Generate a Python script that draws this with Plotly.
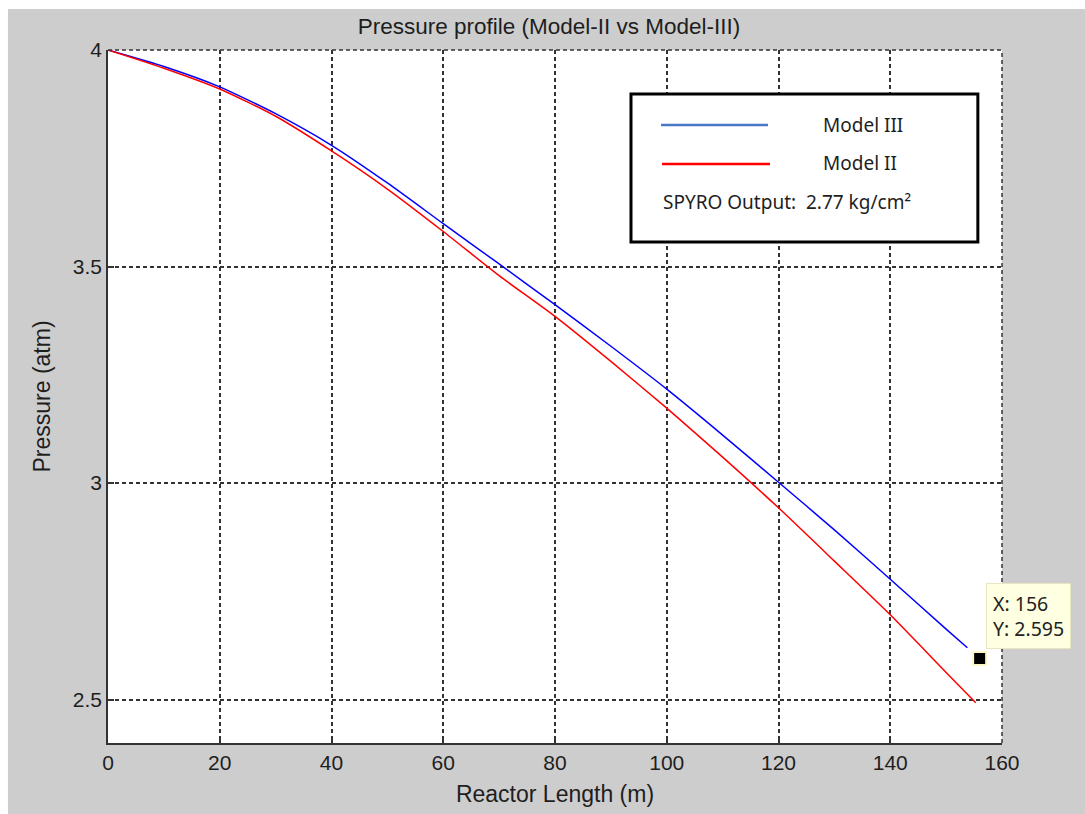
import plotly.graph_objects as go

# ---- data ----
length_m = [0, 10, 20, 30, 40, 50, 60, 70, 80, 90, 100, 110, 120, 130, 140, 150, 153.8]
model3_p = [4.000, 3.962, 3.915, 3.853, 3.780, 3.693, 3.599, 3.506, 3.412, 3.316,
            3.217, 3.111, 3.002, 2.892, 2.778, 2.663, 2.620]

length_m2 = [0, 10, 20, 30, 40, 50, 60, 70, 80, 90, 100, 110, 120, 130, 140, 150, 155.3]
model2_p = [4.000, 3.958, 3.910, 3.847, 3.767, 3.679, 3.581, 3.479, 3.385, 3.281,
            3.173, 3.060, 2.943, 2.820, 2.696, 2.563, 2.493]

tip_x = [156]
tip_y = [2.595]

spyro_output = "2.77 kg/cm²"

x_ticks = [0, 20, 40, 60, 80, 100, 120, 140, 160]
y_ticks = [2.5, 3, 3.5, 4]

GRAY = "#cdcdcd"
TXT = "#1e1e1e"
GRID = "#333333"
FONT = "Liberation Sans, Arial, sans-serif"
LFONT = "Noto Sans, Open Sans, sans-serif"

fig = go.Figure()
fig.add_trace(go.Scatter(x=length_m, y=model3_p, mode="lines", name="Model III",
                         line=dict(color="#0000ff", width=1.5, shape="spline", smoothing=0.6)))
fig.add_trace(go.Scatter(x=length_m2, y=model2_p, mode="lines", name="Model II",
                         line=dict(color="#ff0000", width=1.5, shape="spline", smoothing=0.6)))
fig.add_trace(go.Scatter(x=tip_x, y=tip_y, mode="markers", name="data tip",
                         marker=dict(symbol="square", size=13, color="black",
                                     line=dict(color="#fbf7c8", width=2))))

# data tip box
fig.add_annotation(x=tip_x[0] + 1.2, y=2.77, xref="x", yref="y", xanchor="left", yanchor="top",
                   text=f"X: {tip_x[0]}<br>Y: {tip_y[0]}", showarrow=False, align="left",
                   font=dict(family=LFONT, size=19.5, color="#222"),
                   bgcolor="#ffffe1", bordercolor="#e8e6c0", borderwidth=1, borderpad=6)

# dashed frame lines at the top (y=4) and right (x=160) edges, as in the grid
fig.add_shape(type="line", xref="paper", yref="paper", x0=0, x1=1, y0=1, y1=1,
              line=dict(color=GRID, width=1.5, dash="4px,3px"), layer="above")
fig.add_shape(type="line", xref="paper", yref="paper", x0=1, x1=1, y0=0, y1=1,
              line=dict(color=GRID, width=1.5, dash="4px,3px"), layer="above")

# custom legend box
fig.add_shape(type="rect", xref="paper", yref="paper", x0=0.585, x1=0.973, y0=0.723, y1=0.9365,
              line=dict(color="black", width=3), fillcolor="white", layer="above")
fig.add_shape(type="line", xref="paper", yref="paper", x0=0.6186, x1=0.7383, y0=0.8918, y1=0.8918,
              line=dict(color="#4a76c6", width=2.5), layer="above")
fig.add_shape(type="line", xref="paper", yref="paper", x0=0.6197, x1=0.7405, y0=0.8355, y1=0.8355,
              line=dict(color="#ff0000", width=2.5), layer="above")
for txt, yy, xx in [("Model III", 0.8918, 0.7975), ("Model II", 0.837, 0.7975),
                    ("SPYRO Output:  " + spyro_output, 0.7807, 0.6186)]:
    fig.add_annotation(x=xx, y=yy, xref="paper", yref="paper", xanchor="left", yanchor="middle",
                       text=txt, showarrow=False, font=dict(family=LFONT, size=19, color=TXT))

# white strips at top & left of the image
fig.add_shape(type="rect", xref="paper", yref="paper", x0=-0.125, x1=1.1, y0=1.0592, y1=1.08,
              line=dict(width=0), fillcolor="white", layer="above")
fig.add_shape(type="rect", xref="paper", yref="paper", x0=-0.125, x1=-0.1119, y0=-0.11, y1=1.08,
              line=dict(width=0), fillcolor="white", layer="above")

fig.update_layout(
    width=1085, height=814,
    margin=dict(l=108, r=83, t=50, b=71),
    paper_bgcolor=GRAY, plot_bgcolor="white",
    showlegend=False,
    title=dict(text="Pressure profile (Model-II vs Model-III)", x=0.506, xanchor="center",
               y=1 - 26 / 814, yanchor="middle", yref="container",
               font=dict(family=FONT, size=22.5, color=TXT)),
)
grid = dict(showgrid=True, gridcolor=GRID, gridwidth=1.5, griddash="4px,3px",
            zeroline=False, showline=True, linecolor=GRID, linewidth=1.5,
            ticks="inside", ticklen=6, tickcolor=GRID, tickwidth=1.5,
            tickfont=dict(family=FONT, size=21, color=TXT))
fig.update_xaxes(range=[0, 160], tickvals=x_ticks, **grid,
                 title=dict(text="Reactor Length (m)", font=dict(family=FONT, size=23, color=TXT),
                            standoff=13))
fig.update_yaxes(range=[2.4, 4], tickvals=y_ticks, ticktext=["2.5", "3", "3.5", "4"], **grid,
                 title=dict(text="Pressure (atm)", font=dict(family=FONT, size=23, color=TXT),
                            standoff=16))

fig.write_html("out.html")
